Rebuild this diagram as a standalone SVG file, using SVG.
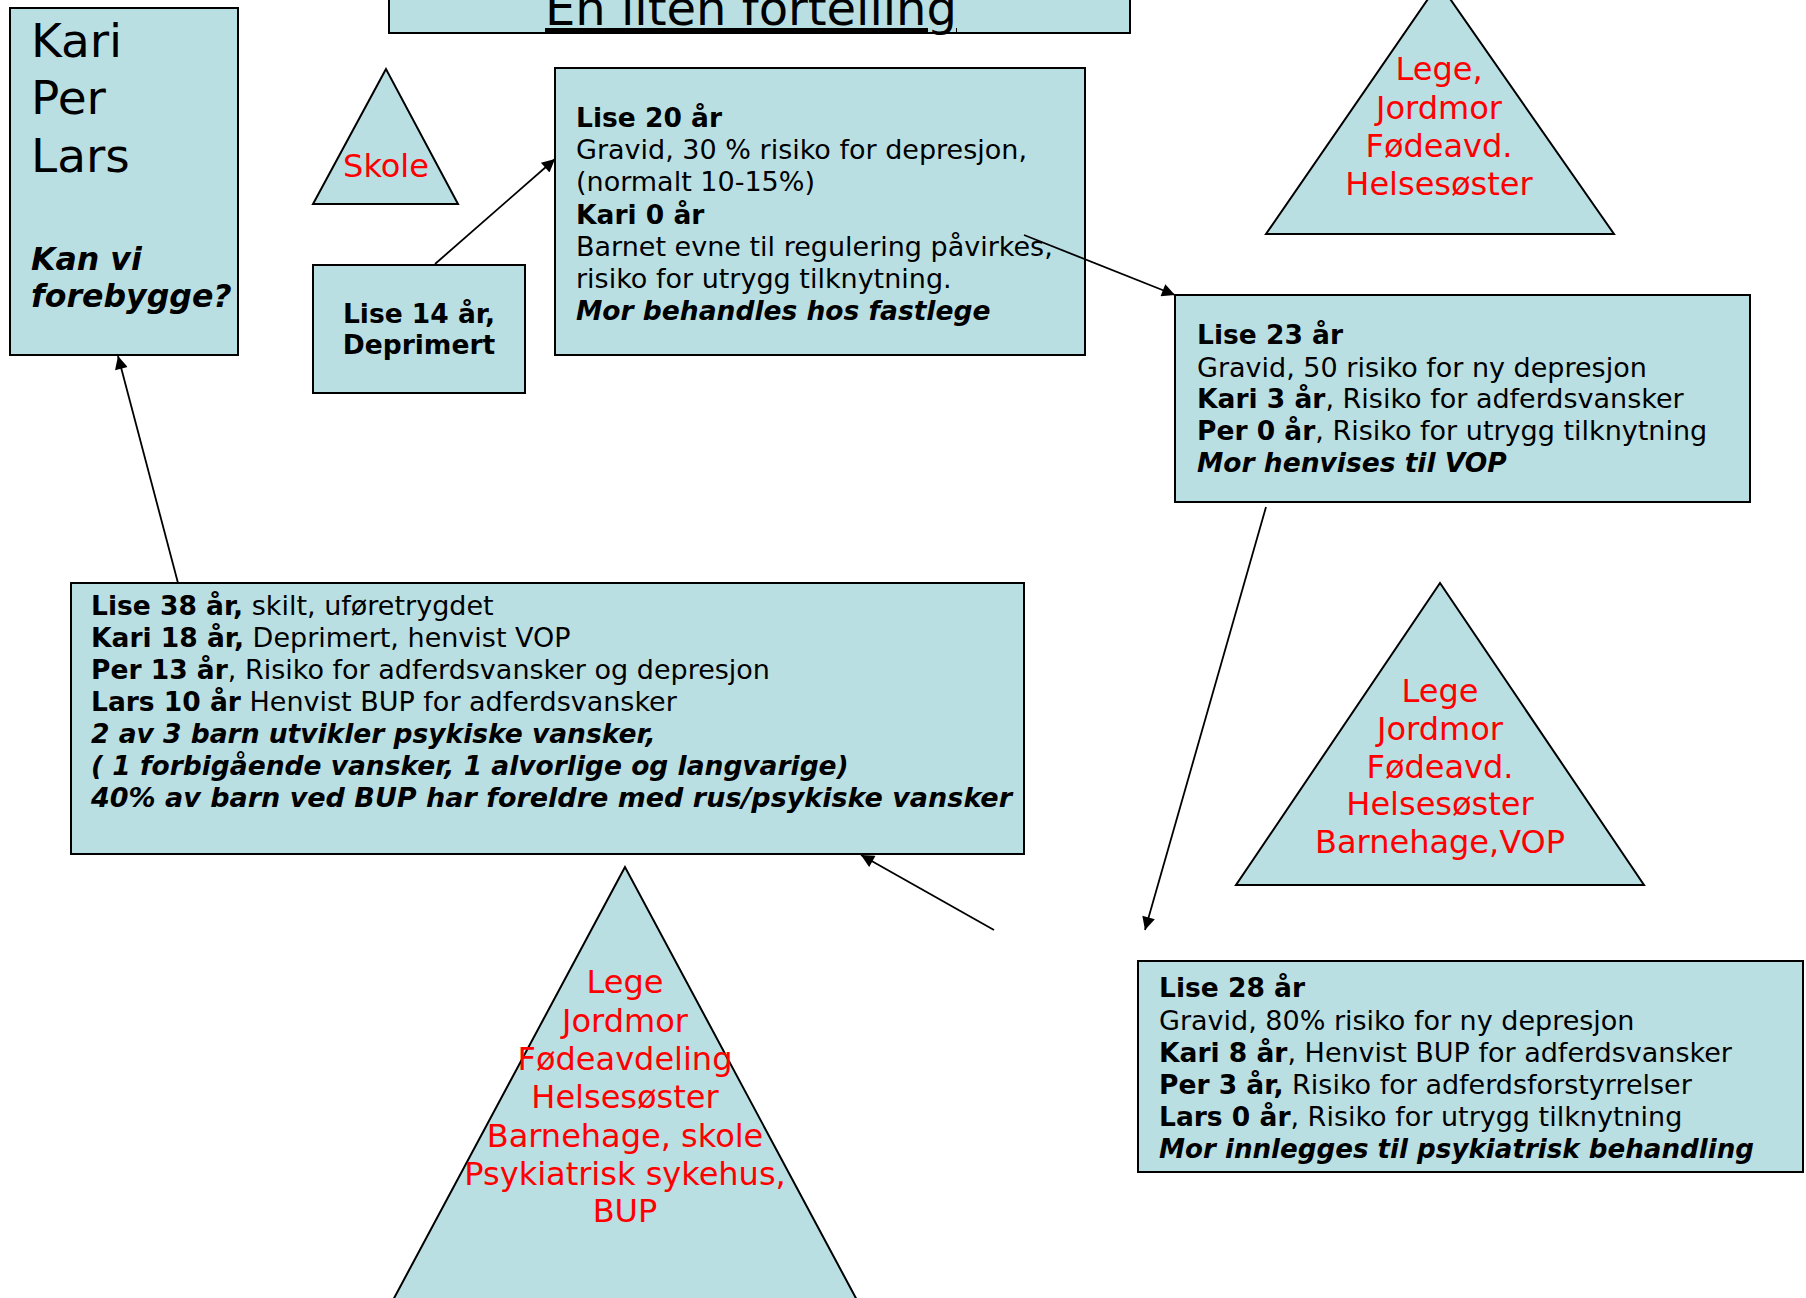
<svg xmlns="http://www.w3.org/2000/svg" width="1806" height="1298" viewBox="0 0 1806 1298">
<defs>
<style>
.box{fill:#BADFE3;stroke:#000;stroke-width:2}
.t{font-family:"DejaVu Sans",Verdana,sans-serif;font-size:27px;fill:#000}
.b{font-weight:bold;font-size:26.5px}
.bi{font-weight:bold;font-style:italic;font-size:26.5px}
.red{font-family:"DejaVu Sans",Verdana,sans-serif;font-size:32px;fill:#FF0000;text-anchor:middle}
.conn line{stroke:#000;stroke-width:1.8;marker-end:url(#arr)}
</style>
<marker id="arr" viewBox="0 0 10 10" refX="10" refY="5" markerWidth="15" markerHeight="13" markerUnits="userSpaceOnUse" orient="auto">
<path d="M0,0 L10,5 L0,10 z" fill="#000"/>
</marker>
</defs>
<rect width="1806" height="1298" fill="#fff"/>

<g id="title">
<rect class="box" x="389" y="-40" width="741" height="73"/>
<text x="751" y="25" font-family="DejaVu Sans,Verdana,sans-serif" font-size="48" text-anchor="middle" text-decoration="underline">En liten fortelling</text>
</g>

<g id="kari-per-lars">
<rect class="box" x="10" y="8" width="228" height="347"/>
<text x="31" y="57" font-family="DejaVu Sans,Verdana,sans-serif" font-size="47">Kari</text>
<text x="31" y="114" font-family="DejaVu Sans,Verdana,sans-serif" font-size="47">Per</text>
<text x="31" y="172" font-family="DejaVu Sans,Verdana,sans-serif" font-size="47">Lars</text>
<text x="31" y="270" font-family="DejaVu Sans,Verdana,sans-serif" font-size="31.6" font-weight="bold" font-style="italic">Kan vi</text>
<text x="31" y="307" font-family="DejaVu Sans,Verdana,sans-serif" font-size="31.6" font-weight="bold" font-style="italic">forebygge?</text>
</g>

<g id="skole">
<polygon class="box" points="386,69 313,204 458,204"/>
<text class="red" x="386" y="177">Skole</text>
</g>

<g id="lise14">
<rect class="box" x="313" y="265" width="212" height="128"/>
<text class="t b" x="419" y="323" text-anchor="middle">Lise 14 år,</text>
<text class="t b" x="419" y="354" text-anchor="middle">Deprimert</text>
</g>

<g id="lise20">
<rect class="box" x="555" y="68" width="530" height="287"/>
<text class="t" x="576" y="127"><tspan class="b">Lise 20 år</tspan></text>
<text class="t" x="576" y="159">Gravid, 30 % risiko for depresjon,</text>
<text class="t" x="576" y="191">(normalt 10-15%)</text>
<text class="t" x="576" y="224"><tspan class="b">Kari 0 år</tspan></text>
<text class="t" x="576" y="256">Barnet evne til regulering påvirkes,</text>
<text class="t" x="576" y="288">risiko for utrygg tilknytning.</text>
<text class="t bi" x="576" y="320">Mor behandles hos fastlege</text>
</g>

<g id="tri-top">
<polygon class="box" points="1439,-17 1266,234 1614,234"/>
<text class="red" x="1439" y="80">Lege,</text>
<text class="red" x="1439" y="119">Jordmor</text>
<text class="red" x="1439" y="157">Fødeavd.</text>
<text class="red" x="1439" y="195">Helsesøster</text>
</g>

<g id="lise23">
<rect class="box" x="1175" y="295" width="575" height="207"/>
<text class="t" x="1197" y="344"><tspan class="b">Lise 23 år</tspan></text>
<text class="t" x="1197" y="377">Gravid, 50 risiko for ny depresjon</text>
<text class="t" x="1197" y="408"><tspan class="b">Kari 3 år</tspan>, Risiko for adferdsvansker</text>
<text class="t" x="1197" y="440"><tspan class="b">Per 0 år</tspan>, Risiko for utrygg tilknytning</text>
<text class="t bi" x="1197" y="472">Mor henvises til VOP</text>
</g>

<g id="tri-mid">
<polygon class="box" points="1440,583 1236,885 1644,885"/>
<text class="red" x="1440" y="702">Lege</text>
<text class="red" x="1440" y="740">Jordmor</text>
<text class="red" x="1440" y="778">Fødeavd.</text>
<text class="red" x="1440" y="815">Helsesøster</text>
<text class="red" x="1440" y="853">Barnehage,VOP</text>
</g>

<g id="lise28">
<rect class="box" x="1138" y="961" width="665" height="211"/>
<text class="t" x="1159" y="997"><tspan class="b">Lise 28 år</tspan></text>
<text class="t" x="1159" y="1030">Gravid, 80% risiko for ny depresjon</text>
<text class="t" x="1159" y="1062"><tspan class="b">Kari 8 år</tspan>, Henvist BUP for adferdsvansker</text>
<text class="t" x="1159" y="1094"><tspan class="b">Per 3 år,</tspan> Risiko for adferdsforstyrrelser</text>
<text class="t" x="1159" y="1126"><tspan class="b">Lars 0 år</tspan>, Risiko for utrygg tilknytning</text>
<text class="t bi" x="1159" y="1158" textLength="595" lengthAdjust="spacingAndGlyphs">Mor innlegges til psykiatrisk behandling</text>
</g>

<g id="lise38">
<rect class="box" x="71" y="583" width="953" height="271"/>
<text class="t" x="91" y="615"><tspan class="b">Lise 38 år,</tspan> skilt, uføretrygdet</text>
<text class="t" x="91" y="647"><tspan class="b">Kari 18 år,</tspan> Deprimert, henvist VOP</text>
<text class="t" x="91" y="679"><tspan class="b">Per 13 år</tspan>, Risiko for adferdsvansker og depresjon</text>
<text class="t" x="91" y="711"><tspan class="b">Lars 10 år</tspan> Henvist BUP for adferdsvansker</text>
<text class="t bi" x="91" y="743">2 av 3 barn utvikler psykiske vansker,</text>
<text class="t bi" x="91" y="775">( 1 forbigående vansker, 1 alvorlige og langvarige)</text>
<text class="t bi" x="91" y="807" textLength="921" lengthAdjust="spacingAndGlyphs">40% av barn ved BUP har foreldre med rus/psykiske vansker</text>
</g>

<g id="tri-bottom">
<polygon class="box" points="625,867 377,1330 873,1330"/>
<text class="red" x="625" y="993">Lege</text>
<text class="red" x="625" y="1032">Jordmor</text>
<text class="red" x="625" y="1070">Fødeavdeling</text>
<text class="red" x="625" y="1108">Helsesøster</text>
<text class="red" x="625" y="1147">Barnehage, skole</text>
<text class="red" x="625" y="1185">Psykiatrisk sykehus,</text>
<text class="red" x="625" y="1222">BUP</text>
</g>

<g id="connectors" class="conn">
<line x1="435" y1="264" x2="555" y2="159"/>
<line x1="1024" y1="235" x2="1175" y2="295"/>
<line x1="1266" y1="507" x2="1145" y2="930"/>
<line x1="994" y1="930" x2="861" y2="855"/>
<line x1="178" y1="583" x2="118" y2="356"/>
</g>
</svg>
